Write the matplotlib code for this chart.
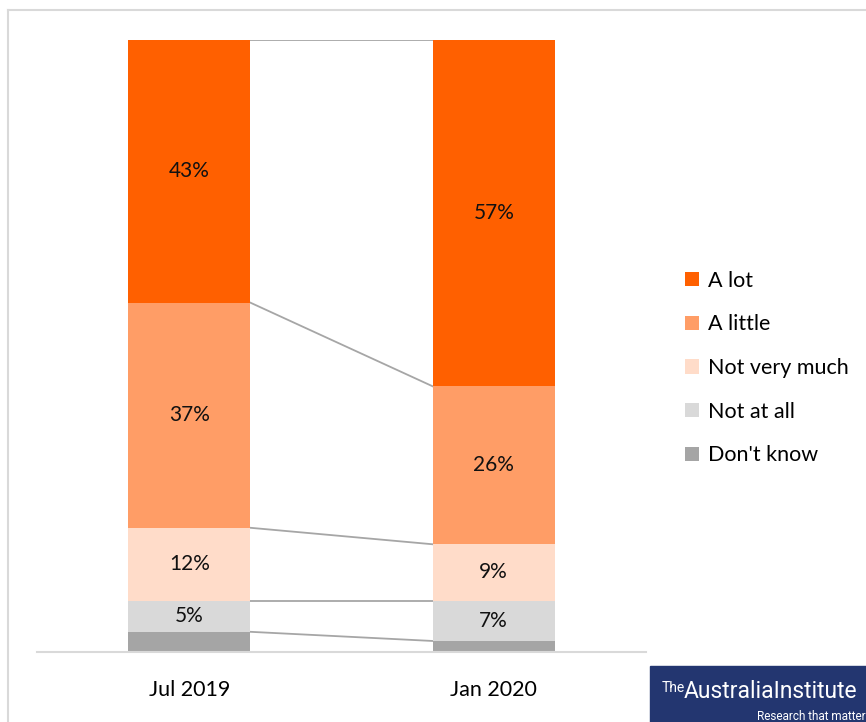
import matplotlib.pyplot as plt
from matplotlib.patches import Rectangle

periods = ["Jul 2019", "Jan 2020"]
categories = ["Don't know", "Not at all", "Not very much", "A little", "A lot"]
jul_2019 = [3.3, 5.1, 11.9, 36.8, 42.9]
jan_2020 = [1.8, 6.6, 9.2, 25.8, 56.6]
colors = ["#A5A5A5", "#D9D9D9", "#FFDCC9", "#FF9D66", "#FF6000"]

values = [jul_2019, jan_2020]

plt.rcParams['font.family'] = ['Lato', 'DejaVu Sans']

fig = plt.figure(figsize=(8.66, 7.22), dpi=100)
ax = fig.add_axes([37/866, 70/722, 609/866, 612/722])

width = 0.4
xs = range(len(periods))
for i, cat in enumerate(categories):
    bottoms = [sum(v[:i]) for v in values]
    heights = [v[i] for v in values]
    ax.bar(xs, heights, width, bottom=bottoms, color=colors[i], label=cat, zorder=2)
    for x, b, h in zip(xs, bottoms, heights):
        if cat != "Don't know":
            ax.text(x, b + h / 2, f"{round(h):.0f}%", ha="center", va="center",
                    fontsize=15, color="#111111")

# connector lines between the bars
for i in range(1, len(categories) + 1):
    y0 = sum(jul_2019[:i])
    y1 = sum(jan_2020[:i])
    ax.plot([0 + width / 2, 1 - width / 2], [y0, y1], color="#A6A6A6", lw=1.3, zorder=1)

ax.set_xlim(-0.5, 1.5)
ax.set_ylim(0, 100)
ax.set_xticks(list(xs))
ax.set_xticklabels(periods, fontsize=15.5)
ax.tick_params(axis="x", length=0, pad=20)
ax.set_yticks([])
for s in ["top", "right", "left"]:
    ax.spines[s].set_visible(False)
ax.spines["bottom"].set_color("#D9D9D9")
ax.spines["bottom"].set_linewidth(1.5)

handles, labels = ax.get_legend_handles_labels()
fig.legend(handles[::-1], labels[::-1], loc="center left", bbox_to_anchor=(666/866, 1 - 368/722),
           frameon=False, fontsize=15.5, handlelength=0.65, handleheight=0.65,
           handletextpad=0.4, labelspacing=1.1)

# outer frame
fig.add_artist(plt.Line2D([8/866, 8/866], [0, 1 - 10/722], color="#D9D9D9", lw=1.5))
fig.add_artist(plt.Line2D([8/866, 1], [1 - 10/722, 1 - 10/722], color="#D9D9D9", lw=1.5))

# logo
logo_font = ["Liberation Sans Narrow", "Roboto", "DejaVu Sans"]
fig.add_artist(Rectangle((650/866, 0), 216/866, 56/722, transform=fig.transFigure,
                         color="#233670", zorder=5))
fig.text(662/866, 1 - 688/722, "The", color="white", fontsize=10, va="center",
         ha="left", zorder=6, family=logo_font)
fig.text(684/866, 1 - 692/722, "AustraliaInstitute", color="white", fontsize=16.5,
         va="center", ha="left", zorder=6, family=logo_font)
fig.text(866/866, 1 - 716/722, "Research that matter", color="white", fontsize=8.5,
         va="center", ha="right", zorder=6, family=logo_font)

fig.savefig("out.png", dpi=100)
